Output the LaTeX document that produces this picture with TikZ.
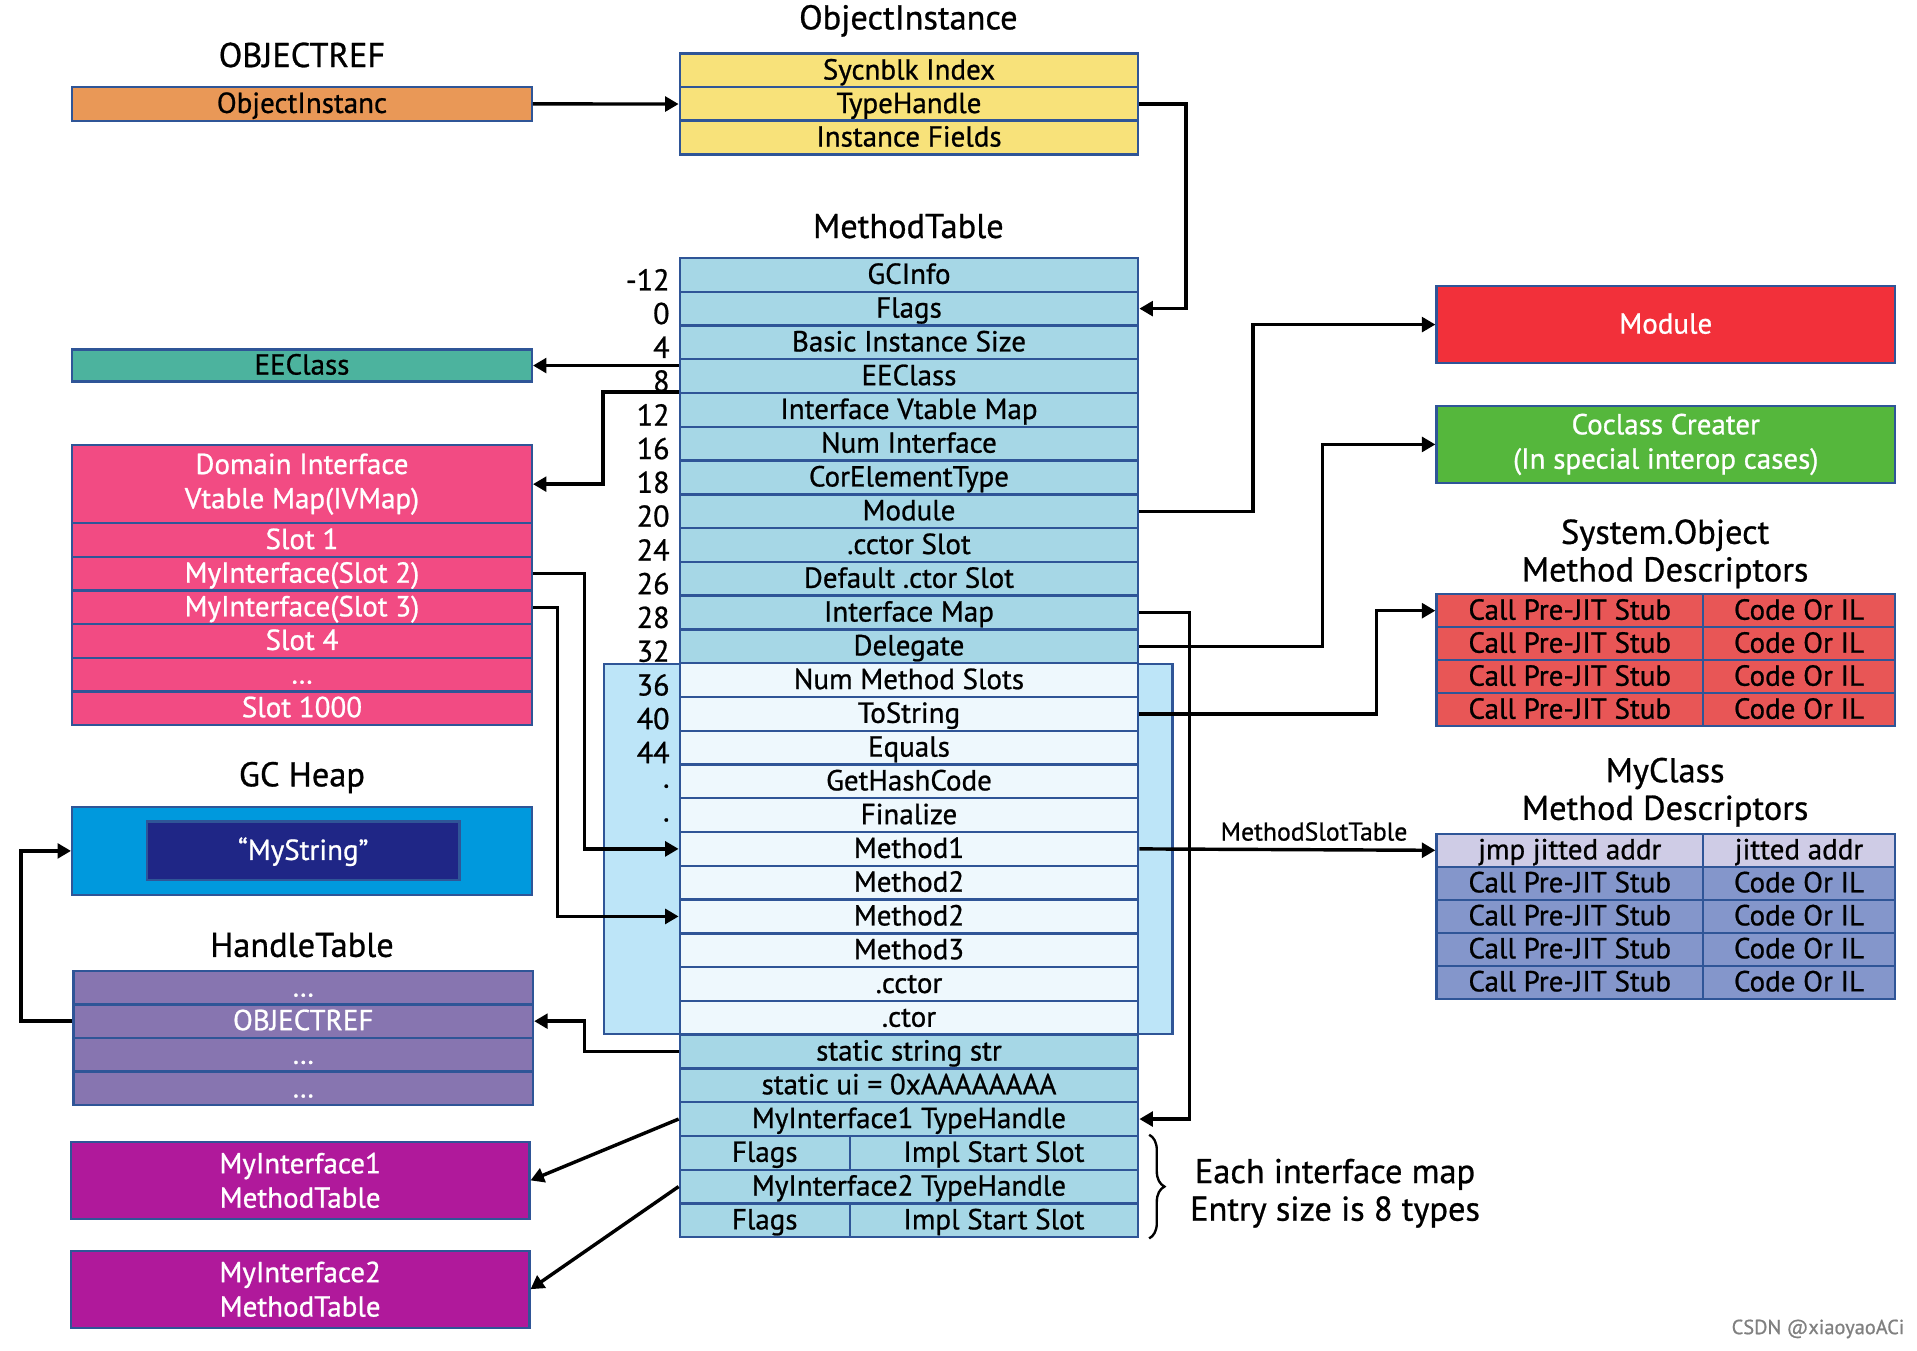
\documentclass[tikz,border=0pt]{standalone}
\usepackage{fontspec}
\setmainfont{PT Sans}[FakeBold=0.8]
\usetikzlibrary{positioning,arrows.meta,decorations.pathreplacing}
\definecolor{bord}{RGB}{47,85,151}
\definecolor{cref}{RGB}{233,152,87}
\definecolor{cinst}{RGB}{248,226,122}
\definecolor{cmt}{RGB}{166,215,230}
\definecolor{cmtl}{RGB}{238,248,253}
\definecolor{cbg}{RGB}{189,229,248}
\definecolor{cee}{RGB}{76,179,158}
\definecolor{civ}{RGB}{242,75,131}
\definecolor{cgc}{RGB}{0,153,221}
\definecolor{cnavy}{RGB}{31,38,134}
\definecolor{cht}{RGB}{135,117,176}
\definecolor{cmi}{RGB}{176,25,155}
\definecolor{cmod}{RGB}{242,48,58}
\definecolor{cco}{RGB}{85,183,60}
\definecolor{csys}{RGB}{232,86,86}
\definecolor{cmyh}{RGB}{207,204,230}
\definecolor{cmy}{RGB}{132,150,203}
\tikzset{cell/.style={draw=bord,line width=1.1pt,inner sep=0pt,align=center,font=\fontsize{13.5}{16}\selectfont},
  one/.style={text height=11pt,text depth=2.6pt},
  mtrow/.style={cell,one,fill=cmt,minimum width=7.5cm,minimum height=0.5524cm},
  mslot/.style={mtrow,fill=cmtl},
  lbox/.style={cell,one,minimum width=7.52cm,minimum height=0.55cm},
  rbox/.style={cell,minimum width=7.5cm,minimum height=1.26cm,text=white},
  mdl/.style={cell,one,minimum width=4.36cm,minimum height=0.54cm},
  mdr/.style={cell,one,minimum width=3.14cm,minimum height=0.54cm},
  ttl/.style={align=center,font=\fontsize{16}{17.5}\selectfont},
  conn/.style={line width=1.6pt,-{Triangle[length=0.22cm,width=0.24cm]}}}

\begin{document}
\begin{tikzpicture}[x=0.02cm,y=-0.02cm]
\useasboundingbox (0,0) rectangle (1568,1105);

\node[ttl] (reft) at (247,45) {OBJECTREF};
\node[lbox,fill=cref] (ref) at (247,85) {ObjectInstanc};
\node[ttl] (oit) at (743,17) {ObjectInstance};
\foreach \t [count=\i] in {Sycnblk Index,TypeHandle,Instance Fields}
  \node[mtrow,fill=cinst] (oi\i) at ({743.5},{44+27.4*(\i-0.5)}) {\t};

% method table
\node[ttl] (mtt) at (743,185) {MethodTable};
\node[draw=bord,line width=1.1pt,fill=cbg,minimum width=9.3cm,minimum height=6.06cm] (slots) at (726.5,694.5) {};
\foreach \t [count=\i] in {GCInfo,Flags,Basic Instance Size,EEClass,Interface Vtable Map,Num Interface,
    CorElementType,Module,.cctor Slot,Default .ctor Slot,Interface Map,Delegate}
  \node[mtrow] (mt\i) at ({743.5},{211+27.62*(\i-0.5)}) {\t};
\foreach \t [count=\i from 13] in {Num Method Slots,ToString,Equals,GetHashCode,Finalize,
    Method1,Method2,Method2,Method3,.cctor,.ctor}
  \node[mslot] (mt\i) at ({743.5},{211+27.62*(\i-0.5)}) {\t};
\foreach \t [count=\i from 24] in {static string str,static ui = 0xAAAAAAAA,MyInterface1 TypeHandle}
  \node[mtrow] (mt\i) at ({743.5},{211+27.62*(\i-0.5)}) {\t};
\node[mtrow] (mt28) at ({743.5},{211+27.62*27.5}) {MyInterface2 TypeHandle};
\foreach \i in {27,29} {
  \node[mtrow,minimum width=2.78cm] (fl\i) at ({625.5},{211+27.62*(\i-0.5)}) {Flags};
  \node[mtrow,minimum width=4.72cm] (im\i) at ({813},{211+27.62*(\i-0.5)}) {Impl Start Slot};
}
\foreach \o [count=\i] in {-12,0,4,8,12,16,18,20,24,26,28,32,36,40,44,{.\hspace{0.3em}},{.\hspace{0.3em}}}
  \node[anchor=east,inner sep=0pt,font=\fontsize{14}{16}\selectfont] (off\i) at ({548},{215+27.62*(\i-0.5)}) {\o};

% left side
\node[lbox,fill=cee,minimum height=0.52cm] (eecl) at (247,299) {EEClass};
\node[cell,fill=civ,text=white,minimum width=7.52cm,minimum height=1.28cm] (ivh) at (247,396) {Domain Interface\\Vtable Map(IVMap)};
\foreach \t [count=\i] in {Slot 1,MyInterface(Slot 2),MyInterface(Slot 3),Slot 4,\dots,Slot 1000}
  \node[lbox,fill=civ,text=white] (iv\i) at (247,{428+27.5*(\i-0.5)}) {\t};
\node[ttl] (gct) at (247,636) {GC Heap};
\node[lbox,fill=cgc,minimum height=1.44cm] (gc) at (247,696) {};
\node[cell,one,fill=cnavy,text=white,minimum width=5.12cm,minimum height=0.96cm] (gcs) at (248,696) {“MyString”};
\node[ttl] (htt) at (247,773) {HandleTable};
\foreach \t [count=\i] in {\dots,OBJECTREF,\dots,\dots}
  \node[lbox,fill=cht,text=white] (ht\i) at (248,{794+27.5*(\i-0.5)}) {\t};
\node[rbox,fill=cmi,minimum width=7.5cm] (mi1) at (245.5,965.5) {MyInterface1\\MethodTable};
\node[rbox,fill=cmi,minimum width=7.5cm] (mi2) at (245.5,1054.5) {MyInterface2\\MethodTable};

% right side
\node[rbox,one,fill=cmod] (module) at (1362.5,265.5) {Module};
\node[rbox,fill=cco] (cocl) at (1362.5,363.5) {Coclass Creater\\(In special interop cases)};
\node[ttl] (syst) at (1362,453) {System.Object\\Method Descriptors};
\foreach \i in {1,...,4} {
  \node[mdl,fill=csys] (sa\i) at (1284,{486+27*(\i-0.5)}) {Call Pre-JIT Stub};
  \node[mdr,fill=csys] (sb\i) at (1471.5,{486+27*(\i-0.5)}) {Code Or IL};
}
\node[ttl] (myt) at (1362,648) {MyClass\\Method Descriptors};
\node[mdl,fill=cmyh] (ma1) at (1284,695.5) {jmp jitted addr};
\node[mdr,fill=cmyh] (mb1) at (1471.5,695.5) {jitted addr};
\foreach \i in {2,...,5} {
  \node[mdl,fill=cmy] (ma\i) at (1284,{682+27*(\i-0.5)}) {Call Pre-JIT Stub};
  \node[mdr,fill=cmy] (mb\i) at (1471.5,{682+27*(\i-0.5)}) {Code Or IL};
}

\draw[conn] (ref.east) -- (oi2.west);
\draw[conn] (oi2.east) -- ++(38,0) |- (mt2.east);
\draw[conn] (mt4.west |- eecl.east) -- (eecl.east);
\draw[conn] (mt5.north west) -- ++(-62,0) |- (ivh.east);
\draw[conn] (iv2.east) -- ++(42,0) |- (mt18.west);
\draw[conn] (iv3.east) -- ++(20,0) |- (mt20.west);
\draw[conn] (mt8.east) -- ++(93,0) |- (module.west);
\draw[conn] (mt12.east) -- ++(150,0) |- (cocl.west);
\draw[conn] (mt14.east) -- ++(194,0) |- (sa1.west);
\draw[conn] (mt18.east) -- node[pos=0.59,above,font=\fontsize{12}{14}\selectfont] (mst) {MethodSlotTable} (ma1.west);
\draw[conn] (mt11.east) -- ++(41,0) |- (mt26.east);
\draw[conn] (mt24.west) -- ++(-77,0) |- (ht2.east);
\draw[conn] (ht2.west) -- ++(-42,0) |- (gc.west);
\draw[conn] (mt26.west) -- (mi1.east);
\draw[conn] (mt28.west) -- (mi2.east);

\draw[line width=1.1pt,decorate,decoration={brace,amplitude=0.25cm}]
  ([xshift=0.16cm]im27.north east) -- ([xshift=0.16cm]im29.south east);
\node[ttl] (note) at (1092,976) {Each interface map\\Entry size is 8 types};
\node[text=gray,font=\fontsize{9.5}{12}\selectfont] (wm) at (1487,1087) {CSDN @xiaoyaoACi};
\end{tikzpicture}
\end{document}
